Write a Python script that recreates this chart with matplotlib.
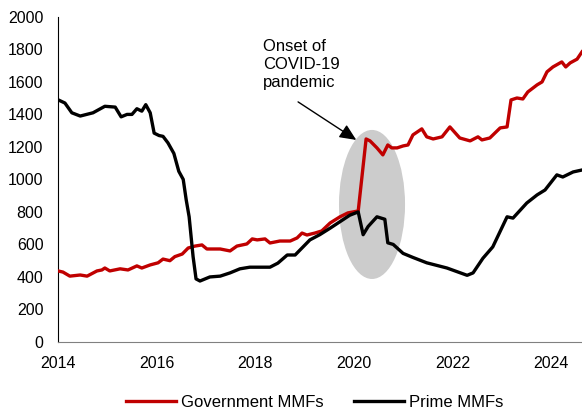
import matplotlib.pyplot as plt
from matplotlib.patches import Ellipse

plt.rcParams['font.family'] = ['Liberation Sans', 'DejaVu Sans']

# Prime MMFs (decimal year, level)
prime_t = [2014.00, 2014.14, 2014.28, 2014.45, 2014.71, 2014.95, 2015.16, 2015.28,
           2015.40, 2015.50, 2015.60, 2015.70, 2015.78, 2015.87, 2015.95, 2016.05,
           2016.13, 2016.23, 2016.35, 2016.45, 2016.54, 2016.60, 2016.66, 2016.74,
           2016.80, 2016.88, 2017.08, 2017.29, 2017.49, 2017.69, 2017.89, 2018.10,
           2018.30, 2018.46, 2018.65, 2018.81, 2019.11, 2019.31, 2019.52, 2019.72,
           2019.92, 2020.09, 2020.19, 2020.29, 2020.47, 2020.63, 2020.69, 2020.80,
           2021.00, 2021.20, 2021.48, 2021.89, 2022.30, 2022.42, 2022.62, 2022.82,
           2023.11, 2023.23, 2023.51, 2023.72, 2023.88, 2024.12, 2024.24, 2024.45,
           2024.63]
prime_v = [1490, 1470, 1410, 1390, 1410, 1450, 1445, 1385,
           1400, 1400, 1435, 1420, 1460, 1410, 1285, 1270,
           1265, 1225, 1160, 1050, 1000, 875, 770, 525,
           388, 375, 400, 405, 425, 450, 460, 460,
           460, 485, 535, 535, 628, 660, 700, 740,
           780, 800, 660, 710, 770, 755, 610, 600,
           545, 520, 487, 455, 410, 425, 515, 585,
           770, 762, 855, 905, 935, 1028, 1015, 1046,
           1058]

# Government MMFs
gov_t = [2014.00, 2014.10, 2014.24, 2014.45, 2014.59, 2014.79, 2014.89, 2014.95,
         2015.05, 2015.26, 2015.42, 2015.60, 2015.70, 2015.87, 2016.03, 2016.13,
         2016.27, 2016.37, 2016.52, 2016.64, 2016.78, 2016.92, 2017.02, 2017.29,
         2017.49, 2017.63, 2017.83, 2017.94, 2018.04, 2018.20, 2018.30, 2018.50,
         2018.71, 2018.85, 2018.95, 2019.05, 2019.21, 2019.35, 2019.52, 2019.72,
         2019.88, 2020.09, 2020.25, 2020.33, 2020.47, 2020.59, 2020.69, 2020.77,
         2020.88, 2021.00, 2021.10, 2021.20, 2021.38, 2021.48, 2021.61, 2021.79,
         2021.95, 2022.15, 2022.36, 2022.52, 2022.60, 2022.76, 2022.97, 2023.11,
         2023.19, 2023.31, 2023.43, 2023.53, 2023.72, 2023.82, 2023.92, 2024.04,
         2024.22, 2024.30, 2024.39, 2024.53, 2024.63]
gov_v = [437, 430, 405, 412, 405, 437, 443, 455,
         437, 450, 443, 468, 455, 474, 487, 510,
         500, 525, 541, 578, 590, 597, 572, 572,
         560, 590, 603, 634, 628, 634, 609, 621,
         621, 640, 670, 658, 670, 683, 732, 770,
         794, 806, 1249, 1237, 1194, 1151, 1212, 1194,
         1194, 1206, 1212, 1274, 1311, 1262, 1249, 1262,
         1323, 1255, 1237, 1262, 1243, 1255, 1317, 1323,
         1489, 1501, 1495, 1538, 1582, 1600, 1662, 1692,
         1723, 1692, 1717, 1740, 1785]

years = [2014, 2016, 2018, 2020, 2022, 2024]
yticks = list(range(0, 2001, 200))

fig = plt.figure(figsize=(5.82, 4.12), dpi=100)
ax = fig.add_axes([0.0997, 0.170, 0.9003, 0.789])

ax.add_patch(Ellipse((2020.37, 846), 1.34, 917, facecolor='#cccccc',
                     edgecolor='none', zorder=1))

ax.plot(gov_t, gov_v, color='#c00000', linewidth=2.4,
        label='Government MMFs', zorder=3)
ax.plot(prime_t, prime_v, color='black', linewidth=2.4,
        label='Prime MMFs', zorder=3)

ax.annotate('', xy=(2020.05, 1243), xytext=(2018.87, 1477),
            arrowprops=dict(arrowstyle='-|>,head_length=1.0,head_width=0.45',
                            color='black', lw=1, shrinkA=0, shrinkB=0),
            zorder=4)
ax.text(2018.16, 1862, 'Onset of\nCOVID-19\npandemic', fontsize=12,
        ha='left', va='top', linespacing=1.22)

ax.set_xlim(2014, 2024.63)
ax.set_ylim(0, 2000)
ax.set_xticks(years)
ax.set_xticklabels([str(y) for y in years])
ax.set_yticks(yticks)
ax.tick_params(axis='both', length=0, labelsize=11.5)
ax.tick_params(axis='y', pad=10.5)
ax.tick_params(axis='x', pad=10)

for side in ['top', 'right']:
    ax.spines[side].set_visible(False)
ax.spines['left'].set_color('black')
ax.spines['bottom'].set_color('#808080')

ax.legend(loc='center', bbox_to_anchor=(0.49, -0.185), ncol=2, frameon=False,
          fontsize=12, handlelength=3.0, columnspacing=1.8, handletextpad=0.3)

fig.savefig('out.png', dpi=100)
